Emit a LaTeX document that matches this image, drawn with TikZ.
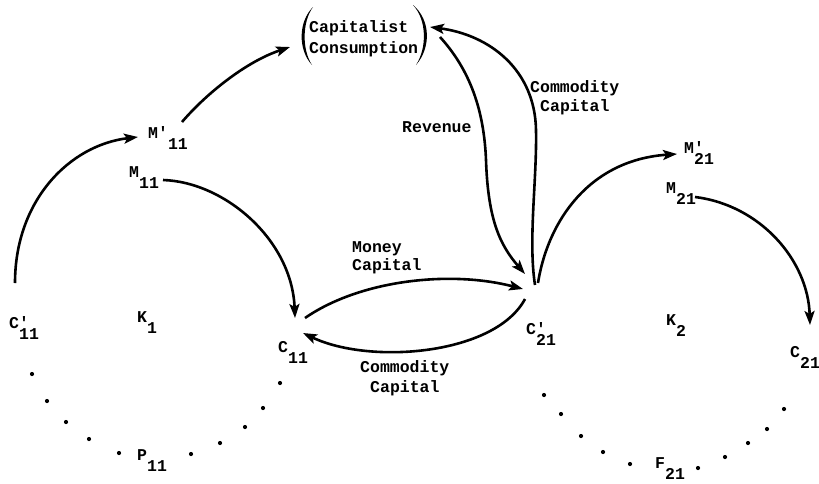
\documentclass[tikz,border=0pt]{standalone}
\usepackage{fontspec}
\setmainfont{Liberation Mono}
\newfontfamily\plainmono{Liberation Mono}
\usetikzlibrary{arrows.meta}
\newcommand{\lbl}[3]{#1\rlap{#2}\raisebox{-11pt}{#3}}
\newcommand{\pr}{{\plainmono\bfseries '}}
\begin{document}
\begin{tikzpicture}[x=1pt,y=-1pt,
  txt/.style={font=\fontsize{16.5}{20}\selectfont\bfseries, inner sep=0pt, anchor=base west},
  flow/.style={line width=2.6pt, -{Stealth[length=14pt,width=10pt,inset=3pt]}},
  dotnode/.style={circle, fill=black, draw=none, inner sep=0pt, minimum size=4.2pt}]
\useasboundingbox (0,0) rectangle (819,483);

% Capitalist consumption
\node[txt] (cc1) at (309,32) {Capitalist};
\node[txt] (cc2) at (309,53) {Consumption};
\fill (313,7) .. controls (298,22) and (298,50) .. (312,65)
      .. controls (302,50) and (302,22) .. (313,7);
\fill (413,5) .. controls (431,20) and (431,48) .. (416,65)
      .. controls (427,48) and (427,20) .. (413,5);

% labels
\node[txt] (mp11) at (148,138) {\lbl{M\pr}{}{11}};
\node[txt] (m11) at (129,177) {\lbl{M}{}{11}};
\node[txt] (cp11) at (9,328) {\lbl{C}{\pr}{11}};
\node[txt] (k1) at (137,322) {\lbl{K}{}{1}};
\node[txt] (c11) at (278,352) {\lbl{C}{}{11}};
\node[txt] (p11) at (137,460) {\lbl{P}{}{11}};
\node[txt] (cp21) at (526,334) {\lbl{C}{\pr}{21}};
\node[txt] (k2) at (666,325) {\lbl{K}{}{2}};
\node[txt] (c21) at (790,357) {\lbl{C}{}{21}};
\node[txt] (f21) at (655,468) {\lbl{F}{}{21}};
\node[txt] (mp21) at (684,153) {\lbl{M}{\pr}{21}};
\node[txt] (m21) at (666,193) {\lbl{M}{}{21}};

% edge texts
\node[txt] (rev) at (402,132) {Revenue};
\node[txt] (cca) at (530,92) {Commodity};
\node[txt] (ccb) at (540,111) {Capital};
\node[txt] (mca) at (352,252) {Money};
\node[txt] (mcb) at (352,270) {Capital};
\node[txt] (lca) at (360,372) {Commodity};
\node[txt] (lcb) at (370,392) {Capital};

% connector ends
\coordinate (cp11-out) at (15,283);
\coordinate (mp11-in) at (138,137);
\coordinate (mp11-out) at (182,122);
\coordinate (cc-in1) at (290,47);
\coordinate (m11-out) at (163,180);
\coordinate (c11-in) at (295,318);
\coordinate (c11-out) at (305,318);
\coordinate (cp21-in1) at (523,289);
\coordinate (cp21-out1) at (525,299);
\coordinate (c11-in2) at (303,333);
\coordinate (cc-out) at (440,37);
\coordinate (rev-mid) at (486,160);
\coordinate (cp21-in2) at (525,274);
\coordinate (cp21-out2) at (535,285);
\coordinate (com-mid) at (536,130);
\coordinate (cc-in2) at (430,27);
\coordinate (cp21-out3) at (538,283);
\coordinate (mp21-in) at (677,154);
\coordinate (m21-out) at (695,197);
\coordinate (c21-in) at (810,325);

% connectors
\draw[flow] (cp11-out) .. controls +(0,-83) and +(-68,8) .. (mp11-in);
\draw[flow] (mp11-out) .. controls +(23,-27) and +(-45,15) .. (cc-in1);
\draw[flow] (m11-out) .. controls +(62,2) and +(-3,-78) .. (c11-in);
\draw[flow] (c11-out) .. controls +(55,-38) and +(-73,-19) .. (cp21-in1);
\draw[flow] (cp21-out1) .. controls +(-30,56) and +(67,32) .. (c11-in2);
\draw[flow] (cc-out) .. controls +(30,33) and +(-2,-50) .. (rev-mid)
            .. controls +(2,60) and +(-25,-29) .. (cp21-in2);
\draw[flow] (cp21-out2) .. controls +(-7,-45) and +(1,50) .. (com-mid)
            .. controls +(-1,-60) and +(60,8) .. (cc-in2);
\draw[flow] (cp21-out3) .. controls +(10,-63) and +(-87,6) .. (mp21-in);
\draw[flow] (m21-out) .. controls +(65,8) and +(-2,-65) .. (c21-in);

% dotted production arcs
\foreach \p [count=\i] in {(32,374),(47,401),(66,422),(89,439),(119,453),(191,454),(220,443),(245,427),(263,408),(280,383)}
  \node[dotnode] (pd\i) at \p {};
\foreach \p [count=\i] in {(544,395),(561,414),(581,436),(603,452),(630,464),(698,468),(725,457),(748,443),(767,429),(784,409)}
  \node[dotnode] (fd\i) at \p {};
\end{tikzpicture}
\end{document}
